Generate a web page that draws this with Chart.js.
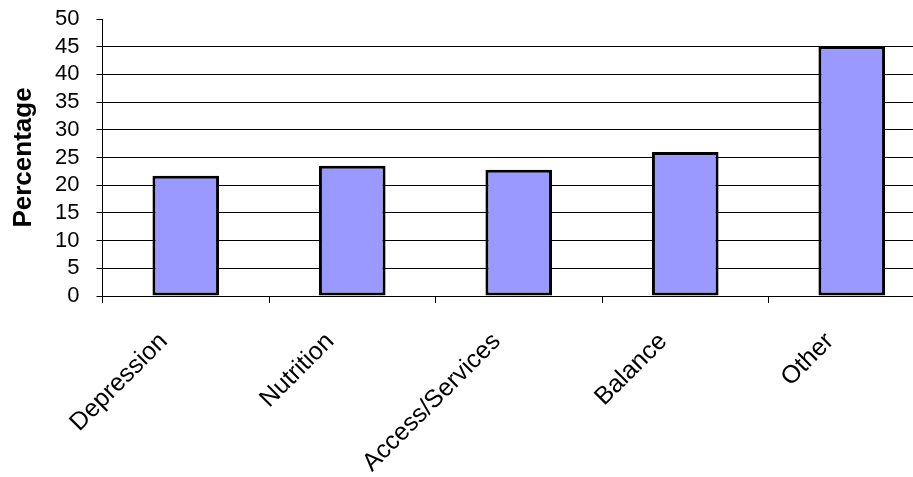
<!DOCTYPE html>
<html>
<head>
<meta charset="utf-8">
<script src="https://cdn.jsdelivr.net/npm/chart.js@4/dist/chart.umd.min.js"></script>
<style>
    html, body { margin: 0; padding: 0; background: #fff; overflow: hidden; }
    #wrap { width: 935px; height: 477px; }
</style>
</head>
<body>
<div id="wrap"><canvas id="chart" width="935" height="477"></canvas></div>
<script>
// topics and their share of responses (%)
const categories = ['Depression', 'Nutrition', 'Access/Services', 'Balance', 'Other'];
const percentages = [21.7, 23.5, 22.8, 26.0, 45.1];
const yTicks = [0, 5, 10, 15, 20, 25, 30, 35, 40, 45, 50];

const FONT = '"Liberation Sans", Arial, sans-serif';

const ctx = document.getElementById('chart').getContext('2d');
new Chart(ctx, {
    type: 'bar',
    data: {
        labels: categories,
        datasets: [{
            label: 'Percentage',
            data: percentages,
            backgroundColor: '#9999ff',
            borderColor: '#000000',
            borderWidth: 3,
            borderSkipped: false,
            categoryPercentage: 1,
            barPercentage: 0.4
        }]
    },
    options: {
        responsive: false,
        animation: false,
        layout: {padding: {top: 19, left: 0, right: 0, bottom: 0}},
        plugins: {
            legend: {display: false},
            tooltip: {enabled: false}
        },
        scales: {
            x: {
                border: {display: true, color: '#000', width: 1},
                grid: {
                    offset: true,
                    drawOnChartArea: false,
                    drawTicks: true,
                    tickLength: 7,
                    tickColor: '#000'
                },
                ticks: {
                    autoSkip: false,
                    maxRotation: 45,
                    minRotation: 45,
                    padding: 24,
                    labelOffset: -22,
                    color: '#000',
                    font: {family: FONT, size: 25}
                },
                afterFit: (scale) => { scale.height = 181; }
            },
            y: {
                min: 0,
                max: 50,
                afterBuildTicks: (scale) => {
                    scale.ticks = yTicks.map(v => ({value: v}));
                },
                border: {display: true, color: '#000', width: 1},
                grid: {
                    // no line along the top of the plot
                    color: (c) => c.tick && c.tick.value === 50 ? 'rgba(0,0,0,0)' : '#000',
                    tickColor: '#000',
                    tickLength: 6,
                    lineWidth: 1
                },
                ticks: {
                    autoSkip: false,
                    padding: 17,
                    color: '#000',
                    font: {family: FONT, size: 22}
                },
                title: {
                    display: true,
                    text: 'Percentage',
                    color: '#000',
                    padding: {top: 8, bottom: 0},
                    font: {family: FONT, size: 26, weight: 'bold'}
                },
                afterFit: (scale) => {
                    scale.width = 102.5;
                    // let the layout padding alone set the plot top
                    scale.paddingTop = 0;
                    scale.paddingBottom = 0;
                }
            }
        }
    }
});
</script>
</body>
</html>
